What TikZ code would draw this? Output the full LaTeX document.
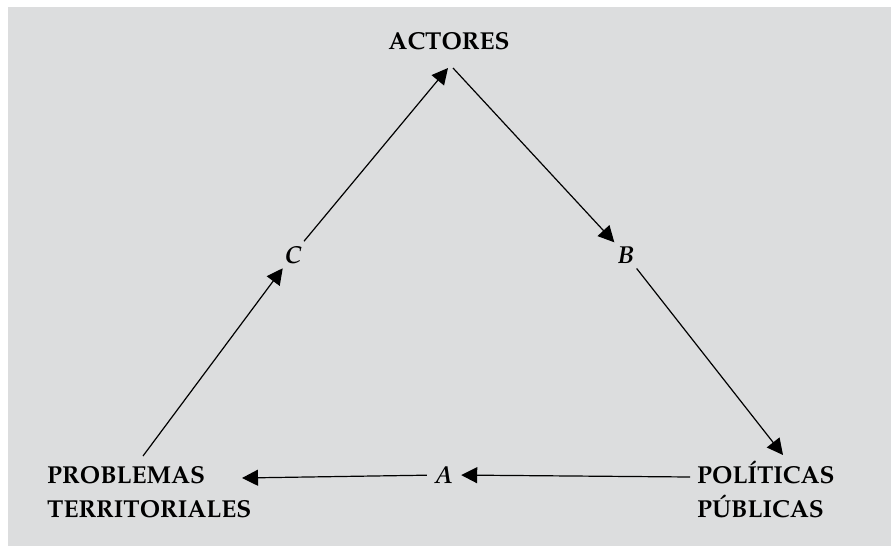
\documentclass[tikz,border=0pt]{standalone}
\usepackage[T1]{fontenc}
\usepackage{mathpazo}
\usetikzlibrary{arrows.meta}
\definecolor{panel}{RGB}{220,221,222}
\tikzset{
  vertex/.style={font=\fontsize{24.5}{34}\selectfont\bfseries, inner sep=0pt, align=left},
  edgelabel/.style={circle, inner sep=0pt, minimum size=34pt, font=\fontsize{24.5}{28}\selectfont\bfseries\itshape},
  flow/.style={line width=1.2pt, -{Triangle[length=16pt,width=16pt]}}
}
\begin{document}
\begin{tikzpicture}[x=1pt, y=-1pt]
  \useasboundingbox (0,0) rectangle (891,546);
  \fill[panel] (8,7) rectangle (891,546);
  % vertices
  \node[vertex, anchor=base] (act) at (449,49) {ACTORES};
  \node[vertex, anchor=base west] (prob) at (47,517) {PROBLEMAS\\TERRITORIALES};
  \node[vertex, anchor=base west] (pol) at (697,517) {POL\'ITICAS\\P\'UBLICAS};
  % labels on the sides
  \node[edgelabel, anchor=base] (A) at (444,483) {A};
  \node[edgelabel, anchor=base] (B) at (626,263) {B};
  \node[edgelabel, anchor=base] (C) at (293,263) {C};
  % free ends near the vertices
  \coordinate (prob-out) at (143,456);
  \coordinate (prob-in) at (242,478);
  \coordinate (act-in) at (448,68);
  \coordinate (act-out) at (453,68);
  \coordinate (pol-in) at (783,455);
  \coordinate (pol-out) at (690,477);
  \draw[flow] (prob-out) -- (C);
  \draw[flow] (C) -- (act-in);
  \draw[flow] (act-out) -- (B);
  \draw[flow] (B) -- (pol-in);
  \draw[flow] (pol-out) -- (A);
  \draw[flow] (A) -- (prob-in);
\end{tikzpicture}
\end{document}
